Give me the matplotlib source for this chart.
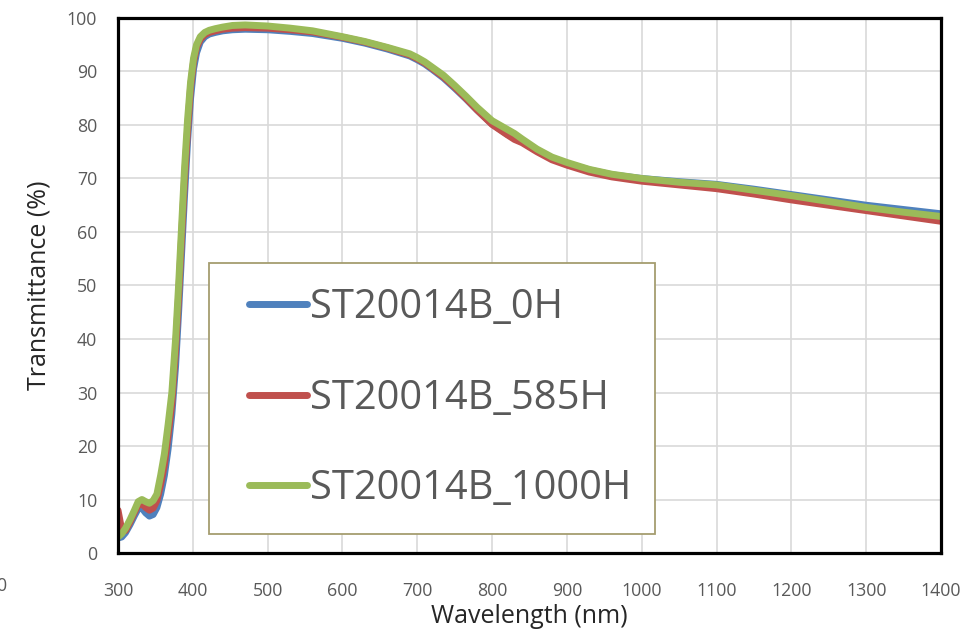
import matplotlib
matplotlib.use("Agg")
import matplotlib.pyplot as plt
from matplotlib.legend_handler import HandlerLine2D

# wavelength grid (nm) and transmittance (%)
wavelength = [300, 305, 310, 316, 322, 327, 332, 337, 342, 347, 352, 357, 362, 367,
              372, 377, 381, 385, 389, 393, 397, 401, 405, 410, 416, 422, 430, 440,
              453, 470, 500, 530, 560, 600, 630, 660, 690, 700, 710, 720, 735, 750,
              765, 780, 800, 820, 830, 840, 860, 880, 900, 930, 960, 1000, 1050, 1100,
              1150, 1200, 1250, 1300, 1350, 1400]

t_0h = [2.8, 3.0, 3.8, 5.3, 7.0, 8.3, 8.4, 7.5, 6.9, 7.2, 8.5, 11.0, 14.5, 19.5,
        26.0, 35.0, 45.0, 56.0, 67.0, 77.0, 85.0, 90.5, 93.5, 95.5, 96.5, 97.0, 97.3, 97.6,
        97.8, 97.9, 97.8, 97.5, 97.1, 96.2, 95.3, 94.2, 92.9, 92.2, 91.4, 90.4, 88.8, 86.9,
        84.9, 82.8, 80.2, 78.3, 77.5, 76.9, 75.2, 73.8, 72.8, 71.6, 70.7, 70.0, 69.4, 68.9,
        68.0, 67.0, 66.0, 65.0, 64.2, 63.4]

t_585h = [8.0, 4.3, 4.2, 5.8, 7.6, 9.0, 9.2, 8.5, 8.0, 8.4, 9.8, 12.8, 16.5, 22.0,
          28.0, 38.0, 48.0, 59.0, 70.0, 79.0, 87.0, 91.8, 94.5, 96.0, 96.9, 97.3, 97.6, 97.9,
          98.1, 98.2, 98.1, 97.8, 97.4, 96.4, 95.5, 94.4, 93.1, 92.4, 91.6, 90.6, 89.0, 87.1,
          85.0, 82.8, 80.1, 78.2, 77.3, 76.7, 75.0, 73.5, 72.5, 71.2, 70.3, 69.5, 68.8, 68.1,
          67.1, 66.0, 65.0, 64.0, 63.0, 62.0]

t_1000h = [3.0, 3.6, 4.6, 6.2, 8.0, 9.6, 10.0, 9.6, 9.3, 9.8, 11.0, 14.5, 18.5, 24.0,
           30.0, 40.0, 50.0, 61.0, 72.0, 81.0, 88.0, 92.5, 95.0, 96.5, 97.3, 97.7, 98.0, 98.3,
           98.6, 98.7, 98.5, 98.1, 97.6, 96.5, 95.6, 94.5, 93.3, 92.6, 91.8, 90.8, 89.3, 87.4,
           85.4, 83.3, 80.8, 79.2, 78.4, 77.4, 75.5, 74.0, 73.0, 71.7, 70.8, 70.0, 69.3, 68.8,
           67.8, 66.8, 65.7, 64.6, 63.7, 62.9]

labels = ["ST20014B_0H", "ST20014B_585H", "ST20014B_1000H"]
colors = ["#4f81bd", "#c0504d", "#9bbb59"]
x_ticks = list(range(300, 1401, 100))
y_ticks = list(range(0, 101, 10))


class ShiftedLine(HandlerLine2D):
    # legend line drawn only in the right part of the handle box,
    # gives extra room on the left of the legend
    shift = 0.38

    def create_artists(self, legend, orig_handle, xdescent, ydescent, width,
                       height, fontsize, trans):
        s = self.shift * fontsize
        return super().create_artists(legend, orig_handle, xdescent - s, ydescent,
                                      width - s, height, fontsize, trans)


plt.rcParams['font.family'] = ['Open Sans', 'DejaVu Sans']

fig = plt.figure(figsize=(9.8, 6.31), dpi=100)
ax = fig.add_axes([0.1204, 0.1236, 0.8398, 0.8479])

for vals, lab, col in zip([t_0h, t_585h, t_1000h], labels, colors):
    ax.plot(wavelength, vals, color=col, lw=5, label=lab,
            solid_capstyle='round', solid_joinstyle='round')

ax.set_xlim(300, 1400)
ax.set_ylim(0, 100)
ax.set_xticks(x_ticks)
ax.set_yticks(y_ticks)
ax.grid(True, color='#d9d9d9', lw=1.2)
ax.set_axisbelow(True)
for s in ax.spines.values():
    s.set_color('black')
    s.set_linewidth(2.3)
ax.tick_params(length=0, labelsize=12.8, labelcolor='#595959')
ax.tick_params(axis='y', pad=15)
ax.tick_params(axis='x', pad=21)

ax.set_xlabel("Wavelength (nm)", fontsize=18, color='#262626', labelpad=3)
ax.set_ylabel("Transmittance (%)", fontsize=18, color='#262626', labelpad=11)

leg = ax.legend(loc='upper left', bbox_to_anchor=(0.1106, 0.542, 0.5419, 0.0),
                mode='expand', borderaxespad=0, fontsize=28.7, fancybox=False,
                borderpad=0.62, labelspacing=1.25, handlelength=1.83, handletextpad=0.08,
                framealpha=1, handler_map={plt.Line2D: ShiftedLine()})
leg.get_frame().set_edgecolor('#a59d6f')
leg.get_frame().set_linewidth(1.3)
for t in leg.get_texts():
    t.set_color('#595959')

# clipped label from neighbouring chart at the left edge
fig.text(-0.004, 0.072, "0", fontsize=12.8, color='#595959', ha='left', va='center')

fig.savefig("out.png", dpi=100)
